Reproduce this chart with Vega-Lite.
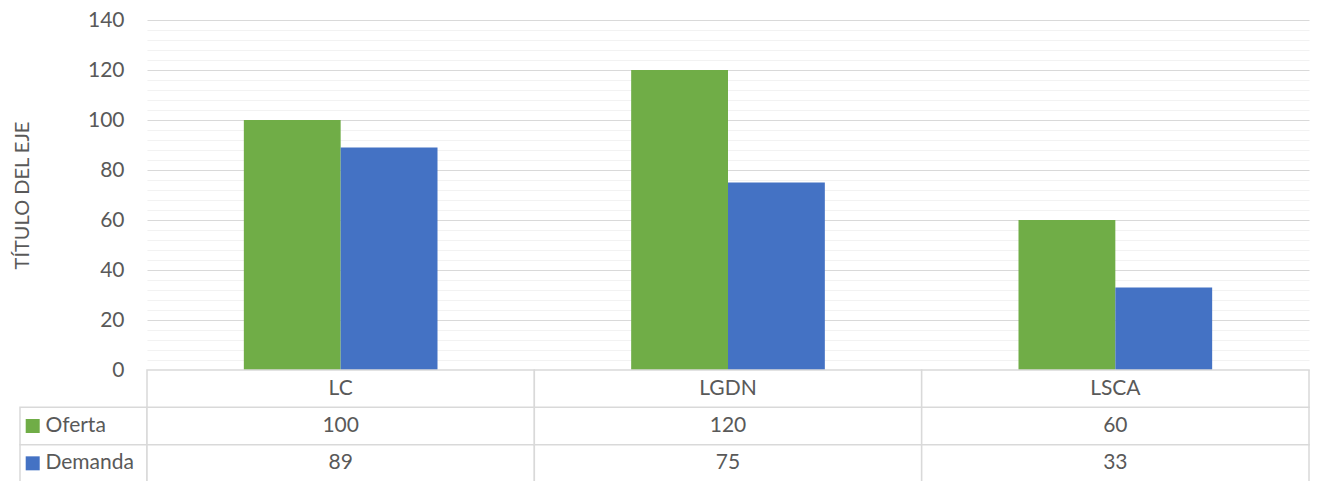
{
  "$schema": "https://vega.github.io/schema/vega-lite/v6.json",
  "padding": {"left": 12, "top": 9, "right": 8, "bottom": 0},
  "autosize": {"type": "pad"},
  "background": "white",
  "config": {
    "view": {"stroke": null},
    "font": "Lato"
  },
  "datasets": {
    "d": [
      {"cat": "LC", "serie": "Oferta", "valor": 100},
      {"cat": "LC", "serie": "Demanda", "valor": 89},
      {"cat": "LGDN", "serie": "Oferta", "valor": 120},
      {"cat": "LGDN", "serie": "Demanda", "valor": 75},
      {"cat": "LSCA", "serie": "Oferta", "valor": 60},
      {"cat": "LSCA", "serie": "Demanda", "valor": 33}
    ]
  },
  "columns": 2,
  "spacing": 0,
  "bounds": "flush",
  "align": "each",
  "concat": [
    {
      "width": 127,
      "height": 350,
      "data": {"values": [{"vacio": ""}]},
      "mark": {"type": "text"},
      "encoding": {"text": {"field": "vacio"}}
    },
    {
      "width": 1162,
      "height": 350,
      "data": {"name": "d"},
      "mark": {"type": "bar"},
      "encoding": {
        "x": {"field": "cat", "type": "nominal", "sort": ["LC", "LGDN", "LSCA"], "scale": {"paddingInner": 0, "paddingOuter": 0}, "axis": null},
        "xOffset": {"field": "serie", "type": "nominal", "sort": ["Oferta", "Demanda"], "scale": {"paddingInner": 0, "paddingOuter": 1}},
        "y": {
          "field": "valor", "type": "quantitative",
          "scale": {"domain": [0, 140], "nice": false},
          "axis": {
            "values": [0,4,8,12,16,20,24,28,32,36,40,44,48,52,56,60,64,68,72,76,80,84,88,92,96,100,104,108,112,116,120,124,128,132,136,140],
            "labelExpr": "datum.value % 20 === 0 ? datum.label : ''",
            "labelOverlap": false,
            "grid": true,
            "gridColor": {"condition": {"test": "datum.value % 20 === 0", "value": "#D9D9D9"}, "value": "#F2F2F2"},
            "gridWidth": 1.2,
            "ticks": false,
            "domain": false,
            "labelPadding": 23,
            "labelFont": "Lato",
            "labelFontSize": 21,
            "labelColor": "#595959",
            "title": "TÍTULO DEL EJE",
            "titleFont": "Lato",
            "titleFontSize": 20,
            "titleFontWeight": "normal",
            "titleColor": "#595959",
            "titlePadding": 55
          }
        },
        "color": {"field": "serie", "type": "nominal", "scale": {"domain": ["Oferta", "Demanda"], "range": ["#70AD47", "#4472C4"]}, "legend": null}
      }
    },
    {
      "width": 127,
      "height": 112,
      "data": {"name": "d"},
      "transform": [{"filter": "datum.cat === 'LC'"}],
      "layer": [
        {
          "mark": {"type": "rect", "fill": "white", "stroke": "#D9D9D9", "strokeWidth": 1.5},
          "encoding": {
            "y": {"field": "serie", "type": "nominal", "scale": {"domain": ["header", "Oferta", "Demanda"], "paddingInner": 0, "paddingOuter": 0}, "axis": null}
          }
        },
        {
          "mark": {"type": "square", "size": 196, "filled": true, "opacity": 1},
          "encoding": {
            "y": {"field": "serie", "type": "nominal", "scale": {"domain": ["header", "Oferta", "Demanda"], "paddingInner": 0, "paddingOuter": 0}, "axis": null},
            "x": {"datum": 1, "type": "quantitative", "scale": {"domain": [0, 10], "nice": false, "zero": false}, "axis": null},
            "color": {"field": "serie", "type": "nominal", "scale": {"domain": ["Oferta", "Demanda"], "range": ["#70AD47", "#4472C4"]}, "legend": null}
          }
        },
        {
          "mark": {"type": "text", "align": "left", "baseline": "middle", "font": "Lato", "fontSize": 21, "color": "#595959"},
          "encoding": {
            "y": {"field": "serie", "type": "nominal", "scale": {"domain": ["header", "Oferta", "Demanda"], "paddingInner": 0, "paddingOuter": 0}, "axis": null},
            "x": {"datum": 2, "type": "quantitative", "scale": {"domain": [0, 10], "nice": false, "zero": false}, "axis": null},
            "text": {"field": "serie"}
          }
        }
      ]
    },
    {
      "width": 1162,
      "height": 112,
      "data": {"name": "d"},
      "layer": [
        {
          "mark": {"type": "rect", "fill": "white", "stroke": "#D9D9D9", "strokeWidth": 1.5},
          "encoding": {
            "x": {"field": "cat", "type": "nominal", "sort": ["LC", "LGDN", "LSCA"], "scale": {"paddingInner": 0, "paddingOuter": 0}, "axis": null},
            "y": {"field": "serie", "type": "nominal", "scale": {"domain": ["header", "Oferta", "Demanda"], "paddingInner": 0, "paddingOuter": 0}, "axis": null}
          }
        },
        {
          "transform": [{"filter": "datum.serie === 'Oferta'"}],
          "mark": {"type": "rect", "fill": "white", "stroke": "#D9D9D9", "strokeWidth": 1.5},
          "encoding": {
            "x": {"field": "cat", "type": "nominal", "sort": ["LC", "LGDN", "LSCA"], "scale": {"paddingInner": 0, "paddingOuter": 0}, "axis": null},
            "y": {"datum": "header", "type": "nominal", "scale": {"domain": ["header", "Oferta", "Demanda"], "paddingInner": 0, "paddingOuter": 0}, "axis": null}
          }
        },
        {
          "mark": {"type": "text", "align": "center", "baseline": "middle", "font": "Lato", "fontSize": 21, "color": "#595959"},
          "encoding": {
            "x": {"field": "cat", "type": "nominal", "sort": ["LC", "LGDN", "LSCA"], "scale": {"paddingInner": 0, "paddingOuter": 0}, "axis": null},
            "y": {"field": "serie", "type": "nominal", "scale": {"domain": ["header", "Oferta", "Demanda"], "paddingInner": 0, "paddingOuter": 0}, "axis": null},
            "text": {"field": "valor", "type": "quantitative"}
          }
        },
        {
          "transform": [{"filter": "datum.serie === 'Oferta'"}],
          "mark": {"type": "text", "align": "center", "baseline": "middle", "font": "Lato", "fontSize": 21, "color": "#595959"},
          "encoding": {
            "x": {"field": "cat", "type": "nominal", "sort": ["LC", "LGDN", "LSCA"], "scale": {"paddingInner": 0, "paddingOuter": 0}, "axis": null},
            "y": {"datum": "header", "type": "nominal", "scale": {"domain": ["header", "Oferta", "Demanda"], "paddingInner": 0, "paddingOuter": 0}, "axis": null},
            "text": {"field": "cat"}
          }
        }
      ]
    }
  ]
}
